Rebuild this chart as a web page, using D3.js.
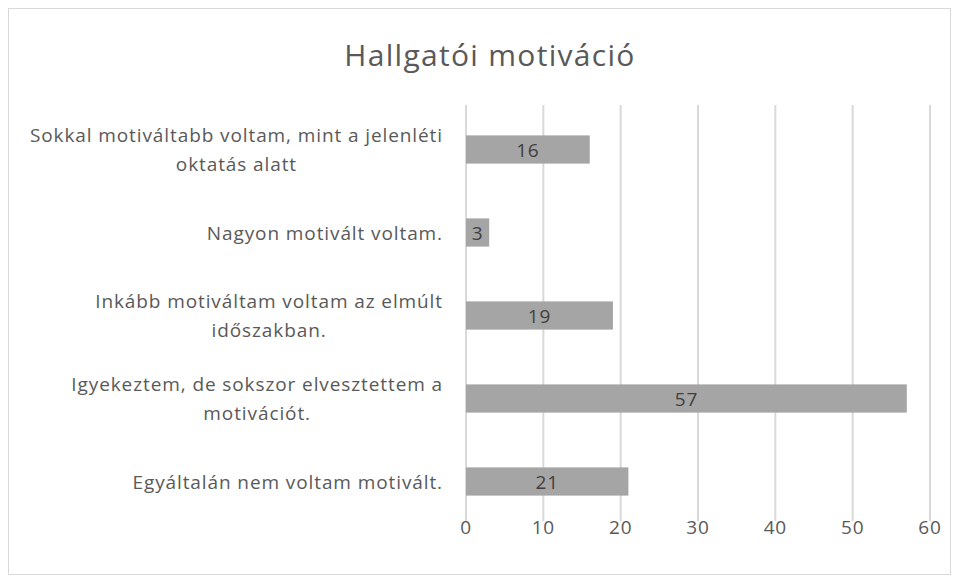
<!DOCTYPE html>
<html>
<head>
<meta charset="utf-8">
<script src="https://cdn.jsdelivr.net/npm/d3@7"></script>
<style>
  body { margin: 0; background: #fff; }
  svg text { font-family: "Open Sans", sans-serif; }
</style>
</head>
<body>
<div id="chart"></div>
<script>
var categories = [
  ["Sokkal motiváltabb voltam, mint a jelenléti", "oktatás alatt"],
  ["Nagyon motivált voltam."],
  ["Inkább motiváltam voltam az elmúlt", "időszakban."],
  ["Igyekeztem, de sokszor elvesztettem a", "motivációt."],
  ["Egyáltalán nem voltam motivált."]
];
var values = [16, 3, 19, 57, 21];
var ticks = [0, 10, 20, 30, 40, 50, 60];

var W = 959, H = 583;
var marg = { top: 108, bot: 60, left: 466, right: 29 };

var svg = d3.select("#chart").append("svg")
  .attr("width", W).attr("height", H);

svg.append("rect")
  .attr("x", 8.5).attr("y", 8.5)
  .attr("width", W - 17).attr("height", H - 17)
  .attr("fill", "#fff").attr("stroke", "#d9d9d9");

svg.append("text")
  .attr("x", 490).attr("y", 66)
  .attr("text-anchor", "middle")
  .attr("fill", "#595959")
  .style("font-size", "30px")
  .style("letter-spacing", "1.3px")
  .text("Hallgatói motiváció");

var x = d3.scaleLinear().domain([0, 60]).range([marg.left, W - marg.right]);
var y = d3.scaleBand().domain(d3.range(categories.length))
  .range([marg.top, H - marg.bot]).paddingInner(0.66).paddingOuter(0.33);

svg.append("g").selectAll("line")
  .data(ticks).enter().append("line")
  .attr("x1", d => x(d)).attr("x2", d => x(d))
  .attr("y1", marg.top - 3).attr("y2", H - marg.bot - 2)
  .attr("stroke", "#d9d9d9").attr("stroke-width", 2);

svg.append("g").selectAll("text")
  .data(ticks).enter().append("text")
  .attr("x", d => x(d)).attr("y", H - marg.bot + 11)
  .attr("text-anchor", "middle")
  .attr("fill", "#595959")
  .style("font-size", "19px")
  .style("letter-spacing", "0.8px")
  .text(d => d);

svg.append("g").selectAll("rect")
  .data(values).enter().append("rect")
  .attr("x", x(0)).attr("y", (d, i) => y(i))
  .attr("width", d => x(d) - x(0)).attr("height", y.bandwidth())
  .attr("fill", "#a5a5a5");

svg.append("g").selectAll("text")
  .data(values).enter().append("text")
  .attr("x", d => (x(d) + x(0)) / 2).attr("y", (d, i) => y(i) + y.bandwidth() / 2 + 7)
  .attr("text-anchor", "middle")
  .attr("fill", "#404040")
  .style("font-size", "19px")
  .style("letter-spacing", "0.8px")
  .text(d => d);

// multi-line labels: block right-aligned at 443, lines centred inside the block
var lab = svg.append("g").selectAll("text")
  .data(categories).enter().append("text")
  .attr("fill", "#595959")
  .style("font-size", "19px")
  .style("letter-spacing", "0.9px");

lab.each(function(d, i) {
  var cy = y(i) + y.bandwidth() / 2;
  var lh = 29;
  var t = d3.select(this);
  var spans = d.map(function(line, j) {
    return t.append("tspan")
      .attr("y", cy + 7 + (j - (d.length - 1) / 2) * lh)
      .text(line);
  });
  var wmax = d3.max(spans, s => s.node().getComputedTextLength());
  spans.forEach(function(s) {
    s.attr("x", 443 - wmax / 2).attr("text-anchor", "middle");
  });
});
</script>
</body>
</html>
